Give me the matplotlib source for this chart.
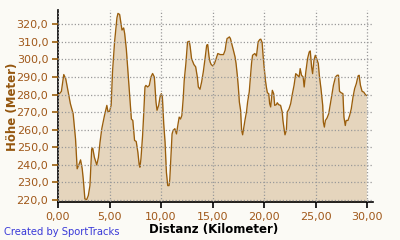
import matplotlib
matplotlib.use("Agg")
import matplotlib.pyplot as plt
from matplotlib.ticker import FuncFormatter

distance_km = [
    0.00, 0.15, 0.33, 0.56, 0.75, 1.00, 1.20, 1.47, 1.70, 1.86, 2.00, 2.19, 2.35, 2.45, 2.61,
    2.78, 2.94, 3.10, 3.27, 3.37, 3.53, 3.76, 3.92, 4.08, 4.25, 4.51, 4.74, 4.84, 5.00, 5.16,
    5.29, 5.49, 5.72, 5.82, 5.98, 6.21, 6.37, 6.47, 6.63, 6.86, 7.12, 7.26, 7.33, 7.43, 7.59,
    7.75, 7.88, 7.95, 8.05, 8.21, 8.31, 8.44, 8.53, 8.70, 8.86, 9.02, 9.18, 9.35, 9.51, 9.61,
    9.77, 9.90, 10.03, 10.13, 10.26, 10.39, 10.52, 10.65, 10.78, 10.85, 10.94, 11.07, 11.17,
    11.34, 11.50, 11.60, 11.76, 11.89, 12.02, 12.15, 12.25, 12.41, 12.57, 12.74, 12.83, 12.96,
    13.19, 13.36, 13.52, 13.62, 13.78, 13.94, 14.10, 14.27, 14.43, 14.53, 14.66, 14.76, 14.87,
    15.03, 15.19, 15.35, 15.51, 15.74, 16.06, 16.22, 16.31, 16.41, 16.54, 16.63, 16.73, 16.86,
    17.02, 17.18, 17.28, 17.40, 17.50, 17.60, 17.72, 17.82, 17.92, 18.01, 18.14, 18.30, 18.40,
    18.56, 18.69, 18.78, 18.88, 19.10, 19.26, 19.42, 19.58, 19.68, 19.81, 19.90, 20.00, 20.13,
    20.22, 20.32, 20.45, 20.54, 20.64, 20.80, 20.93, 21.03, 21.19, 21.28, 21.41, 21.60, 21.76,
    21.83, 21.96, 22.03, 22.16, 22.25, 22.42, 22.58, 22.75, 22.91, 23.07, 23.24, 23.40, 23.50,
    23.63, 23.79, 23.89, 24.05, 24.22, 24.38, 24.48, 24.61, 24.71, 24.84, 24.97, 25.10, 25.26,
    25.36, 25.52, 25.69, 25.75, 25.85, 25.95, 26.11, 26.27, 26.41, 26.57, 26.73, 26.93, 27.09,
    27.22, 27.32, 27.48, 27.65, 27.75, 27.88, 27.97, 28.14, 28.30, 28.46, 28.63, 28.79, 28.95,
    29.12, 29.22, 29.35, 29.51, 29.67, 29.84, 29.93,
]
elevation_m = [
    280.5, 280.5, 281.8, 291.4, 289.0, 281.0, 274.8, 269.0, 254.7, 237.6, 239.5, 242.7, 237.6, 231.8, 220.4,
    220.0, 222.3, 228.0, 249.0, 249.4, 244.2, 239.8, 244.0, 252.8, 260.5, 268.0, 273.8, 270.4, 270.4, 273.8,
    292.9, 310.0, 323.8, 326.3, 325.7, 316.8, 318.0, 314.8, 306.0, 287.0, 266.0, 265.2, 260.5, 253.8, 253.2,
    247.1, 239.8, 238.5, 243.3, 256.6, 268.0, 284.3, 285.2, 284.3, 285.2, 290.0, 292.0, 290.0, 275.7, 271.0,
    273.8, 278.6, 280.5, 278.6, 263.3, 252.8, 235.6, 228.0, 228.0, 231.8, 242.3, 257.5, 259.5,
    260.5, 257.5, 261.4, 267.1, 266.0, 268.0, 277.6, 288.1, 297.7, 310.0, 310.4, 307.2, 300.5,
    297.1, 295.8, 290.0, 284.3, 283.0, 287.2, 292.9, 300.5, 308.2, 308.5, 301.5, 298.6, 297.1,
    296.3, 297.7, 300.5, 303.4, 302.8, 302.8, 305.3, 309.1, 312.0, 312.4, 312.9, 312.0, 309.1,
    305.3, 301.5, 297.7, 291.0, 284.3, 275.7, 271.0, 259.5, 257.0, 260.5, 265.2, 270.4, 275.7,
    281.5, 291.0, 297.7, 302.4, 303.4, 302.0, 310.0, 311.4, 311.6, 309.7, 302.4, 295.8, 288.1,
    284.3, 281.0, 280.5, 274.8, 272.9, 282.4, 280.5, 273.8, 274.2, 275.3, 274.2, 273.8, 270.0,
    265.2, 259.5, 257.0, 259.5, 270.0, 271.8, 274.8, 280.5, 285.3, 291.9, 291.0, 290.0, 294.8,
    291.0, 290.0, 284.3, 292.9, 300.5, 304.3, 304.9, 295.8, 291.9, 299.6, 302.4, 300.5, 297.7,
    291.0, 283.4, 273.8, 264.3, 261.4, 265.2, 266.6, 269.0, 273.8, 279.5, 285.3, 290.0, 291.0,
    291.0, 281.8, 281.0, 280.5, 267.1, 262.3, 265.2, 265.2, 268.0, 271.8, 278.6, 283.4, 286.2,
    290.6, 291.0, 285.3, 281.8, 281.4, 279.9, 279.5,
]
x_ticks = [0, 5, 10, 15, 20, 25, 30]
y_ticks = [220, 230, 240, 250, 260, 270, 280, 290, 300, 310, 320]
x_label = "Distanz (Kilometer)"
y_label = "Höhe (Meter)"
credit = "Created by SportTracks"

BG = "#FBFAF5"
FILL = "#E5D5BD"
LINE = "#9A5E0C"
TICKTXT = "#A0581A"
Y0, Y1 = 218.6, 328.2

fig = plt.figure(figsize=(4.0, 2.4), dpi=100, facecolor=BG)
ax = fig.add_axes([0.145, 0.158, 0.787, 0.800])
ax.set_facecolor(BG)

ax.fill_between(distance_km, elevation_m, Y0 - 5, color=FILL, linewidth=0, zorder=1)
ax.plot(distance_km, elevation_m, color=LINE, linewidth=0.95, zorder=2)

ax.set_xlim(0, 30.55)
ax.set_ylim(Y0, Y1)
ax.set_xticks(x_ticks)
ax.set_yticks(y_ticks)
ax.xaxis.set_major_formatter(FuncFormatter(lambda v, p: f"{v:.2f}".replace(".", ",")))
ax.yaxis.set_major_formatter(FuncFormatter(lambda v, p: f"{v:.1f}".replace(".", ",")))

ax.set_axisbelow(False)
ax.grid(True, color="#9A9A9A", linestyle=(0, (1, 1.6)), linewidth=0.9)

for s in ("top", "right"):
    ax.spines[s].set_visible(False)
for s in ("left", "bottom"):
    ax.spines[s].set_color("black")
    ax.spines[s].set_linewidth(1.2)

ax.tick_params(axis="y", colors=LINE, labelcolor=TICKTXT, length=4.5, width=1.2,
               labelsize=8, pad=2.5)
ax.tick_params(axis="x", colors="black", labelcolor=TICKTXT, length=4.5, width=1.2,
               labelsize=8, pad=2.5)

fig.text(0.032, 0.555, y_label, rotation=90, ha="center", va="center",
         fontsize=8.5, fontweight="bold", color="#94560E")
fig.text(0.535, 0.042, x_label, ha="center", va="center",
         fontsize=8.5, fontweight="bold", color="black")
fig.text(0.01, 0.035, credit, ha="left", va="center", fontsize=7.2, color="#3A3AD8")

fig.savefig("out.png", dpi=100, facecolor=BG)
